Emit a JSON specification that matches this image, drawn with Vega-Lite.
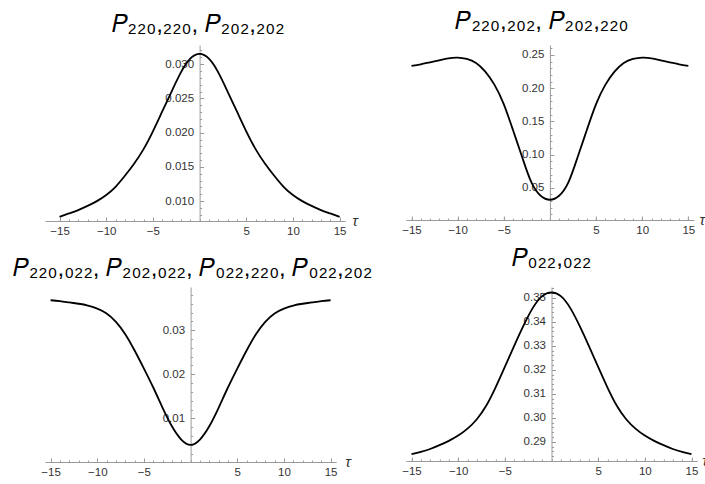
{
  "$schema": "https://vega.github.io/schema/vega-lite/v6.json",
  "padding": {"left": 12, "top": 10, "right": 5, "bottom": 5},
  "config": {
    "view": {"stroke": null},
    "font": "Liberation Sans",
    "axis": {"grid": false, "domainColor": "#9a9a9a", "tickColor": "#9a9a9a", "labelColor": "#333333", "labelFontSize": 11.5, "labelFont": "Liberation Sans", "labelOverlap": false, "labelFlush": false},
    "title": {"fontSize": 24, "fontWeight": "normal", "font": "Liberation Sans", "color": "#000000", "anchor": "middle", "frame": "group"}
  },
  "datasets": {
    "p1": [
      {"tau": -15, "p": 0.0077}, {"tau": -14, "p": 0.0082}, {"tau": -13, "p": 0.0087}, {"tau": -12, "p": 0.0093}, {"tau": -11, "p": 0.0100}, {"tau": -10, "p": 0.0109}, {"tau": -9, "p": 0.0121}, {"tau": -8, "p": 0.0137}, {"tau": -7, "p": 0.0155}, {"tau": -6, "p": 0.0176}, {"tau": -5, "p": 0.0202}, {"tau": -4, "p": 0.0231}, {"tau": -3, "p": 0.0260}, {"tau": -2, "p": 0.0288}, {"tau": -1, "p": 0.0308},
      {"tau": 0, "p": 0.0315},
      {"tau": 1, "p": 0.0308}, {"tau": 2, "p": 0.0288}, {"tau": 3, "p": 0.0260}, {"tau": 4, "p": 0.0231}, {"tau": 5, "p": 0.0202}, {"tau": 6, "p": 0.0176}, {"tau": 7, "p": 0.0155}, {"tau": 8, "p": 0.0137}, {"tau": 9, "p": 0.0121}, {"tau": 10, "p": 0.0109}, {"tau": 11, "p": 0.0100}, {"tau": 12, "p": 0.0093}, {"tau": 13, "p": 0.0087}, {"tau": 14, "p": 0.0082}, {"tau": 15, "p": 0.0077}
    ],
    "p2": [
      {"tau": -15, "p": 0.2335}, {"tau": -14, "p": 0.236}, {"tau": -13, "p": 0.239}, {"tau": -12, "p": 0.242}, {"tau": -11, "p": 0.245}, {"tau": -10, "p": 0.246}, {"tau": -9, "p": 0.244}, {"tau": -8, "p": 0.238}, {"tau": -7, "p": 0.225}, {"tau": -6, "p": 0.205}, {"tau": -5, "p": 0.176}, {"tau": -4, "p": 0.137}, {"tau": -3, "p": 0.096}, {"tau": -2, "p": 0.058}, {"tau": -1, "p": 0.038},
      {"tau": 0, "p": 0.032},
      {"tau": 1, "p": 0.038}, {"tau": 2, "p": 0.058}, {"tau": 3, "p": 0.096}, {"tau": 4, "p": 0.137}, {"tau": 5, "p": 0.176}, {"tau": 6, "p": 0.205}, {"tau": 7, "p": 0.225}, {"tau": 8, "p": 0.238}, {"tau": 9, "p": 0.244}, {"tau": 10, "p": 0.246}, {"tau": 11, "p": 0.245}, {"tau": 12, "p": 0.242}, {"tau": 13, "p": 0.239}, {"tau": 14, "p": 0.236}, {"tau": 15, "p": 0.2335}
    ],
    "p3": [
      {"tau": -15, "p": 0.0368}, {"tau": -14, "p": 0.0366}, {"tau": -13, "p": 0.0363}, {"tau": -12, "p": 0.0360}, {"tau": -11, "p": 0.0356}, {"tau": -10, "p": 0.0349}, {"tau": -9, "p": 0.0338}, {"tau": -8, "p": 0.0319}, {"tau": -7, "p": 0.0291}, {"tau": -6, "p": 0.0254}, {"tau": -5, "p": 0.0213}, {"tau": -4, "p": 0.0170}, {"tau": -3, "p": 0.0124}, {"tau": -2, "p": 0.0082}, {"tau": -1, "p": 0.0052},
      {"tau": 0, "p": 0.0040},
      {"tau": 1, "p": 0.0052}, {"tau": 2, "p": 0.0082}, {"tau": 3, "p": 0.0124}, {"tau": 4, "p": 0.0170}, {"tau": 5, "p": 0.0213}, {"tau": 6, "p": 0.0254}, {"tau": 7, "p": 0.0291}, {"tau": 8, "p": 0.0319}, {"tau": 9, "p": 0.0338}, {"tau": 10, "p": 0.0349}, {"tau": 11, "p": 0.0356}, {"tau": 12, "p": 0.0360}, {"tau": 13, "p": 0.0363}, {"tau": 14, "p": 0.0366}, {"tau": 15, "p": 0.0368}
    ],
    "p4": [
      {"tau": -15, "p": 0.2849}, {"tau": -14, "p": 0.2858}, {"tau": -13, "p": 0.2870}, {"tau": -12, "p": 0.2886}, {"tau": -11, "p": 0.2904}, {"tau": -10, "p": 0.2926}, {"tau": -9, "p": 0.2955}, {"tau": -8, "p": 0.2994}, {"tau": -7, "p": 0.3050}, {"tau": -6, "p": 0.3126}, {"tau": -5, "p": 0.3212}, {"tau": -4, "p": 0.3300}, {"tau": -3, "p": 0.3384}, {"tau": -2, "p": 0.3458}, {"tau": -1, "p": 0.3507},
      {"tau": 0, "p": 0.3522},
      {"tau": 1, "p": 0.3507}, {"tau": 2, "p": 0.3458}, {"tau": 3, "p": 0.3384}, {"tau": 4, "p": 0.3300}, {"tau": 5, "p": 0.3212}, {"tau": 6, "p": 0.3126}, {"tau": 7, "p": 0.3050}, {"tau": 8, "p": 0.2994}, {"tau": 9, "p": 0.2955}, {"tau": 10, "p": 0.2926}, {"tau": 11, "p": 0.2904}, {"tau": 12, "p": 0.2886}, {"tau": 13, "p": 0.2870}, {"tau": 14, "p": 0.2858}, {"tau": 15, "p": 0.2849}
    ]
  },
  "bounds": "flush",
  "columns": 2,
  "spacing": {"row": 66, "column": 59.9},
  "concat": [
    {
      "width": 300.2, "height": 176,
      "title": {"text": "𝑃₂₂₀,₂₂₀, 𝑃₂₀₂,₂₀₂", "dx": 3, "offset": 8},
      "data": {"name": "p1"},
      "layer": [
        {
          "mark": {"type": "line", "color": "#000000", "strokeWidth": 1.8, "interpolate": "natural"},
          "encoding": {
            "x": {"field": "tau", "type": "quantitative", "scale": {"domain": [-16.56, 15.6], "nice": false, "zero": false},
              "axis": {"values": [-15, -10, -5, 5, 10, 15], "tickSize": -4, "labelPadding": 8, "title": "τ", "titleFontStyle": "italic", "titleFontWeight": "normal", "titleFontSize": 15, "titleColor": "#333333", "titleX": 309.6, "titleY": -1, "titleAlign": "center", "titleBaseline": "middle", "titleAngle": 0}},
            "y": {"field": "p", "type": "quantitative", "scale": {"domain": [0.0071, 0.0328], "nice": false, "zero": false},
              "axis": {"values": [0.010, 0.015, 0.020, 0.025, 0.030], "format": ".3f", "offset": -154.6, "tickSize": -4, "labelPadding": 10, "title": null}}
          }
        },
        {
          "mark": {"type": "line", "opacity": 0},
          "encoding": {
            "x": {"field": "tau", "type": "quantitative", "axis": {"orient": "bottom", "values": [-15,-14,-13,-12,-11,-10,-9,-8,-7,-6,-5,-4,-3,-2,-1,0,1,2,3,4,5,6,7,8,9,10,11,12,13,14,15], "labels": false, "domain": false, "tickSize": -2, "title": null}},
            "y": {"field": "p", "type": "quantitative", "axis": {"orient": "left", "offset": -154.6, "values": [0.008,0.009,0.010,0.011,0.012,0.013,0.014,0.015,0.016,0.017,0.018,0.019,0.020,0.021,0.022,0.023,0.024,0.025,0.026,0.027,0.028,0.029,0.030,0.031,0.032], "labels": false, "domain": false, "tickSize": -2, "title": null}}
          }
        }
      ],
      "resolve": {"axis": {"x": "independent", "y": "independent"}}
    },
    {
      "width": 288, "height": 175,
      "title": {"text": "𝑃₂₂₀,₂₀₂, 𝑃₂₀₂,₂₂₀", "dx": -8, "offset": 11},
      "data": {"name": "p2"},
      "layer": [
        {
          "mark": {"type": "line", "color": "#000000", "strokeWidth": 1.8, "interpolate": "natural"},
          "encoding": {
            "x": {"field": "tau", "type": "quantitative", "scale": {"domain": [-15.6, 15.6], "nice": false, "zero": false},
              "axis": {"values": [-15, -10, -5, 5, 10, 15], "tickSize": -4, "labelPadding": 8, "title": "τ", "titleFontStyle": "italic", "titleFontWeight": "normal", "titleFontSize": 15, "titleColor": "#333333", "titleX": 296, "titleY": -1, "titleAlign": "center", "titleBaseline": "middle", "titleAngle": 0}},
            "y": {"field": "p", "type": "quantitative", "scale": {"domain": [0.0015, 0.265], "nice": false, "zero": false},
              "axis": {"values": [0.05, 0.10, 0.15, 0.20, 0.25], "format": ".2f", "offset": -144, "tickSize": -4, "labelPadding": 10, "title": null}}
          }
        },
        {
          "mark": {"type": "line", "opacity": 0},
          "encoding": {
            "x": {"field": "tau", "type": "quantitative", "axis": {"orient": "bottom", "values": [-15,-14,-13,-12,-11,-10,-9,-8,-7,-6,-5,-4,-3,-2,-1,0,1,2,3,4,5,6,7,8,9,10,11,12,13,14,15], "labels": false, "domain": false, "tickSize": -2, "title": null}},
            "y": {"field": "p", "type": "quantitative", "axis": {"orient": "left", "offset": -144, "values": [0.01,0.02,0.03,0.04,0.05,0.06,0.07,0.08,0.09,0.10,0.11,0.12,0.13,0.14,0.15,0.16,0.17,0.18,0.19,0.20,0.21,0.22,0.23,0.24,0.25,0.26], "labels": false, "domain": false, "tickSize": -2, "title": null}}
          }
        }
      ],
      "resolve": {"axis": {"x": "independent", "y": "independent"}}
    },
    {
      "width": 291.2, "height": 175,
      "title": {"text": "𝑃₂₂₀,₀₂₂, 𝑃₂₀₂,₀₂₂, 𝑃₀₂₂,₂₂₀, 𝑃₀₂₂,₂₀₂", "dx": 2, "offset": 6},
      "data": {"name": "p3"},
      "layer": [
        {
          "mark": {"type": "line", "color": "#000000", "strokeWidth": 1.8, "interpolate": "natural"},
          "encoding": {
            "x": {"field": "tau", "type": "quantitative", "scale": {"domain": [-15.6, 15.6], "nice": false, "zero": false},
              "axis": {"values": [-15, -10, -5, 5, 10, 15], "tickSize": -4, "labelPadding": 8, "title": "τ", "titleFontStyle": "italic", "titleFontWeight": "normal", "titleFontSize": 15, "titleColor": "#333333", "titleX": 302.6, "titleY": -1, "titleAlign": "center", "titleBaseline": "middle", "titleAngle": 0}},
            "y": {"field": "p", "type": "quantitative", "scale": {"domain": [0.0001, 0.0398], "nice": false, "zero": false},
              "axis": {"values": [0.01, 0.02, 0.03], "format": ".2f", "offset": -145.6, "tickSize": -4, "labelPadding": 10, "title": null}}
          }
        },
        {
          "mark": {"type": "line", "opacity": 0},
          "encoding": {
            "x": {"field": "tau", "type": "quantitative", "axis": {"orient": "bottom", "values": [-15,-14,-13,-12,-11,-10,-9,-8,-7,-6,-5,-4,-3,-2,-1,0,1,2,3,4,5,6,7,8,9,10,11,12,13,14,15], "labels": false, "domain": false, "tickSize": -2, "title": null}},
            "y": {"field": "p", "type": "quantitative", "axis": {"orient": "left", "offset": -145.6, "values": [0.002,0.004,0.006,0.008,0.010,0.012,0.014,0.016,0.018,0.020,0.022,0.024,0.026,0.028,0.030,0.032,0.034,0.036,0.038], "labels": false, "domain": false, "tickSize": -2, "title": null}}
          }
        }
      ],
      "resolve": {"axis": {"x": "independent", "y": "independent"}}
    },
    {
      "width": 291.2, "height": 174,
      "title": {"text": "𝑃₀₂₂,₀₂₂", "dx": 0, "offset": 16},
      "data": {"name": "p4"},
      "layer": [
        {
          "mark": {"type": "line", "color": "#000000", "strokeWidth": 1.8, "interpolate": "natural"},
          "encoding": {
            "x": {"field": "tau", "type": "quantitative", "scale": {"domain": [-15.6, 15.6], "nice": false, "zero": false},
              "axis": {"values": [-15, -10, -5, 5, 10, 15], "tickSize": -4, "labelPadding": 8, "title": "τ", "titleFontStyle": "italic", "titleFontWeight": "normal", "titleFontSize": 15, "titleColor": "#333333", "titleX": 298.6, "titleY": -1, "titleAlign": "center", "titleBaseline": "middle", "titleAngle": 0}},
            "y": {"field": "p", "type": "quantitative", "scale": {"domain": [0.282, 0.3545], "nice": false, "zero": false},
              "axis": {"values": [0.29, 0.30, 0.31, 0.32, 0.33, 0.34, 0.35], "format": ".2f", "offset": -145.6, "tickSize": -4, "labelPadding": 10, "title": null}}
          }
        },
        {
          "mark": {"type": "line", "opacity": 0},
          "encoding": {
            "x": {"field": "tau", "type": "quantitative", "axis": {"orient": "bottom", "values": [-15,-14,-13,-12,-11,-10,-9,-8,-7,-6,-5,-4,-3,-2,-1,0,1,2,3,4,5,6,7,8,9,10,11,12,13,14,15], "labels": false, "domain": false, "tickSize": -2, "title": null}},
            "y": {"field": "p", "type": "quantitative", "axis": {"orient": "left", "offset": -145.6, "values": [0.284,0.286,0.288,0.290,0.292,0.294,0.296,0.298,0.300,0.302,0.304,0.306,0.308,0.310,0.312,0.314,0.316,0.318,0.320,0.322,0.324,0.326,0.328,0.330,0.332,0.334,0.336,0.338,0.340,0.342,0.344,0.346,0.348,0.350,0.352,0.354], "labels": false, "domain": false, "tickSize": -2, "title": null}}
          }
        }
      ],
      "resolve": {"axis": {"x": "independent", "y": "independent"}}
    }
  ]
}
